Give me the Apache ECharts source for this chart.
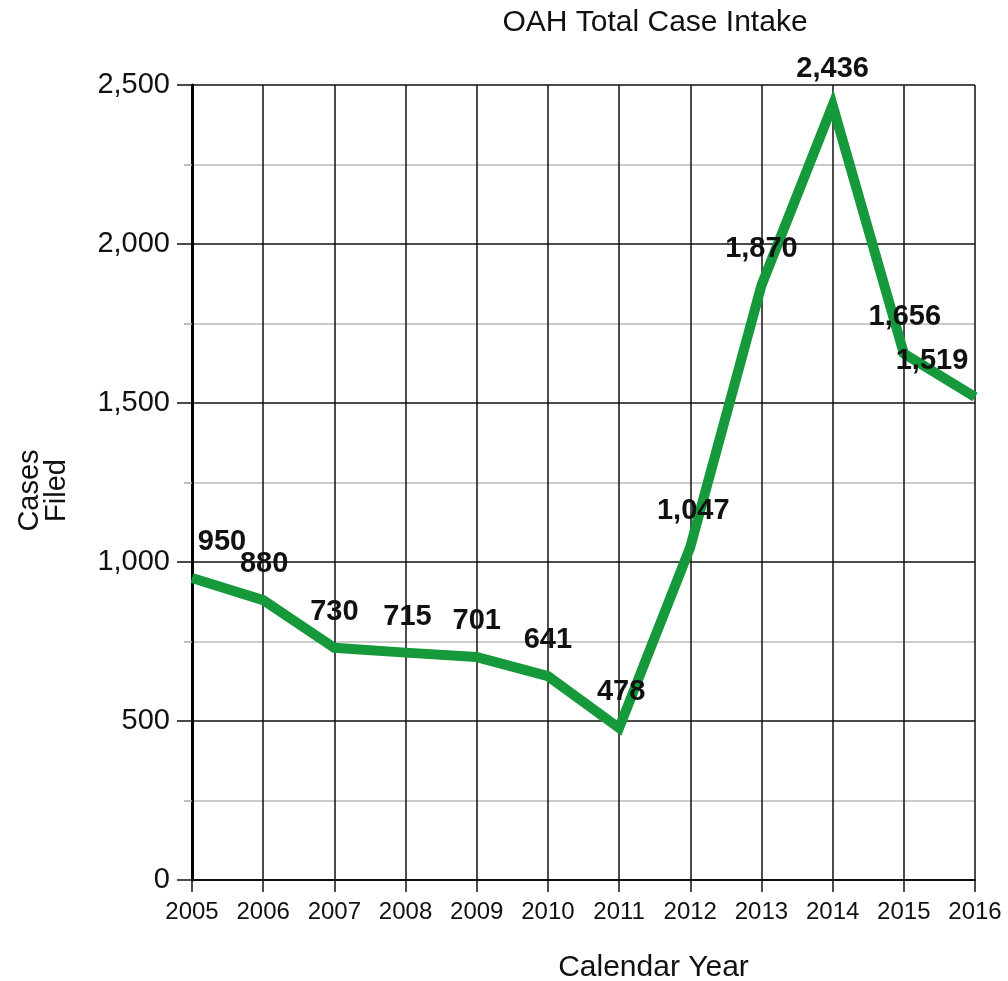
<!DOCTYPE html>
<html>
<head>
<meta charset="utf-8">
<title>OAH Total Case Intake</title>
<script src="https://cdn.jsdelivr.net/npm/echarts@6/dist/echarts.min.js"></script>
<style>
  html, body { margin: 0; padding: 0; background: #fff; }
  #chart { width: 1008px; height: 981px; }
</style>
</head>
<body>
<div id="chart"></div>
<script>
  // data
  var years = ['2005', '2006', '2007', '2008', '2009', '2010', '2011', '2012', '2013', '2014', '2015', '2016'];
  var casesFiled = [950, 880, 730, 715, 701, 641, 478, 1047, 1870, 2436, 1656, 1519];

  // label nudges (px, horizontal) so the numbers sit like in the original
  var labelNudge = [30, 1, 0, 2, 0, 0, 2, 3, 0, 0, 1, -43];

  var font = '"Liberation Sans", Arial, sans-serif';

  var option = {
    animation: false,
    backgroundColor: '#fff',
    title: {
      text: 'OAH Total Case Intake',
      left: 650,
      top: 3,
      textAlign: 'center',
      textStyle: { fontFamily: font, fontSize: 30, fontWeight: 'normal', color: '#111' }
    },
    grid: { left: 192, right: 33, top: 85, bottom: 101, containLabel: false, outerBoundsMode: 'none' },
    xAxis: {
      type: 'category',
      data: years,
      boundaryGap: false,
      name: 'Calendar Year',
      nameLocation: 'middle',
      nameGap: 73,
      nameTextStyle: { fontFamily: font, fontSize: 30, color: '#111', padding: [0, 0, 0, 140] },
      axisLine: { lineStyle: { color: '#111', width: 2 } },
      axisTick: { show: true, interval: 0, length: 12, lineStyle: { color: '#111', width: 1.5 } },
      axisLabel: { interval: 0, hideOverlap: false, fontFamily: font, fontSize: 24, color: '#111', margin: 20 },
      splitLine: { show: true, interval: 0, lineStyle: { color: '#111', width: 1.5 } }
    },
    yAxis: {
      type: 'value',
      min: 0,
      max: 2500,
      interval: 500,
      name: 'Cases\nFiled',
      nameLocation: 'middle',
      nameRotate: 90,
      nameGap: 122,
      nameTextStyle: { fontFamily: font, fontSize: 29, color: '#111', lineHeight: 27, padding: [0, 16, 0, 0] },
      axisLine: { show: true, lineStyle: { color: '#000', width: 3 } },
      axisTick: { show: true, length: 15, lineStyle: { color: '#111', width: 1.5 } },
      minorTick: { show: true, splitNumber: 2, length: 8, lineStyle: { color: '#aaa', width: 1.5 } },
      axisLabel: {
        fontFamily: font, fontSize: 29, color: '#111', margin: 22,
        formatter: function (v) { return v.toLocaleString('en-US'); }
      },
      splitLine: { show: true, lineStyle: { color: '#111', width: 1.5 } },
      minorSplitLine: { show: true, lineStyle: { color: '#bbb', width: 1.5 } }
    },
    series: [
      {
        name: 'Cases Filed',
        type: 'line',
        data: casesFiled,
        symbol: 'circle',
        symbolSize: 1,
        showSymbol: true,
        lineStyle: { color: '#15993b', width: 10, join: 'miter', cap: 'butt' },
        itemStyle: { color: '#15993b' },
        label: {
          show: true,
          position: 'top',
          distance: 21,
          fontFamily: font,
          fontSize: 29,
          fontWeight: 'bold',
          color: '#111',
          formatter: function (p) { return p.value.toLocaleString('en-US'); }
        },
        labelLayout: function (params) {
          return { dx: labelNudge[params.dataIndex], hideOverlap: false };
        },
        z: 5
      }
    ]
  };

  var chart = echarts.init(document.getElementById('chart'));
  chart.setOption(option);
  window.addEventListener('resize', function () {
    chart.resize();
  });
</script>
</body>
</html>
